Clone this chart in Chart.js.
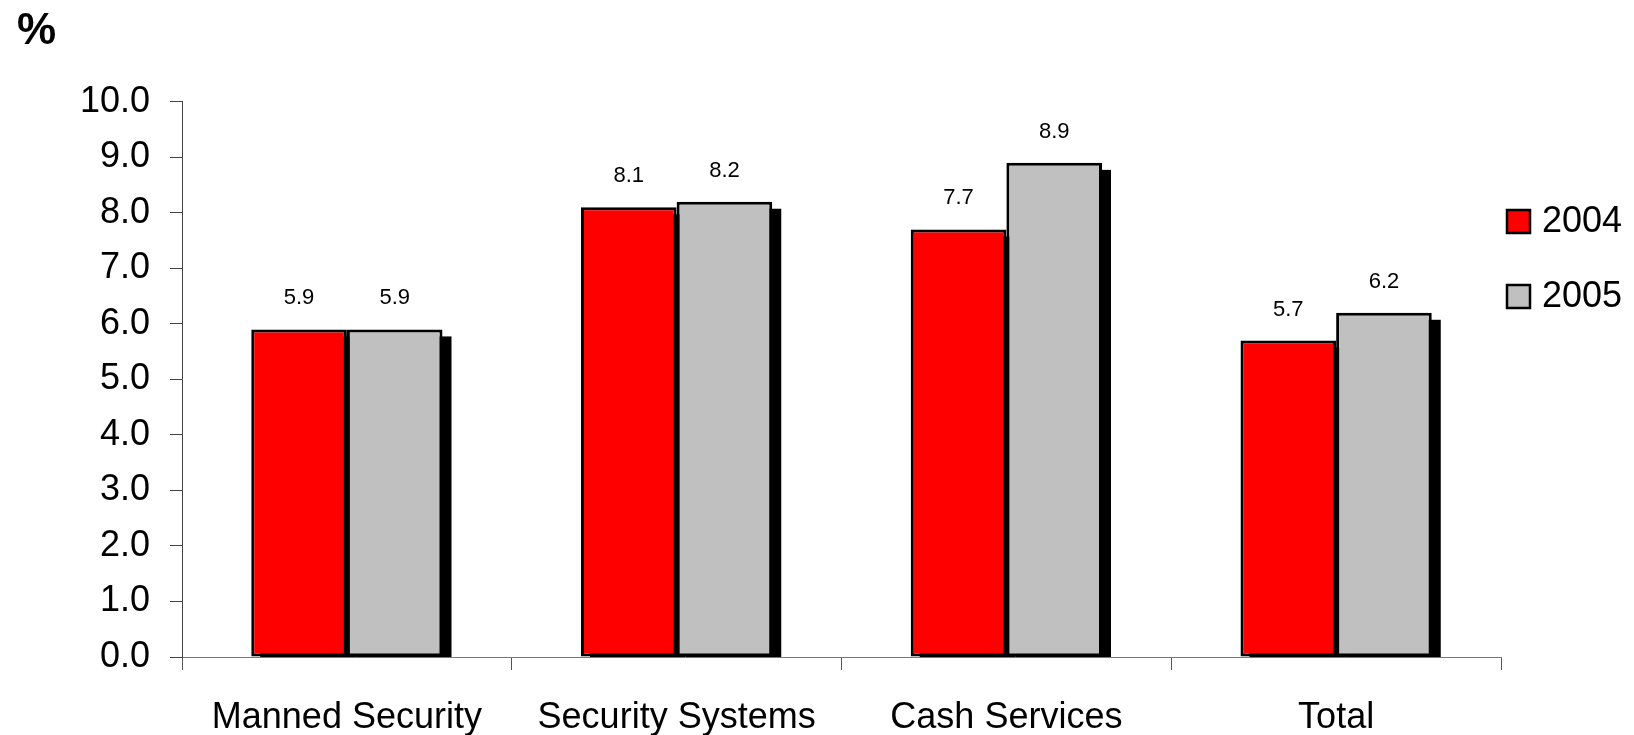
<!DOCTYPE html>
<html>
<head>
<meta charset="utf-8">
<script src="https://cdn.jsdelivr.net/npm/chart.js@4/dist/chart.umd.min.js"></script>
<style>
    html, body { margin: 0; padding: 0; background: #fff; }
    #wrap { width: 1634px; height: 735px; }
</style>
</head>
<body>
<div id="wrap"><canvas id="chart" width="1634" height="735"></canvas></div>
<script>
// Data
const categories = ['Manned Security', 'Security Systems', 'Cash Services', 'Total'];
const seriesNames = ['2004', '2005'];
const values2004 = [5.9, 8.1, 7.7, 5.7];
const values2005 = [5.9, 8.2, 8.9, 6.2];
const yTicks = [0, 1, 2, 3, 4, 5, 6, 7, 8, 9, 10];

const FONT = "'Liberation Sans', Arial, sans-serif";

// Drop shadow behind each bar
const barShadow = {
    id: 'barShadow',
    beforeDatasetsDraw(chart) {
        const ctx = chart.ctx;
        const area = chart.chartArea;
        ctx.save();
        ctx.beginPath();
        ctx.rect(area.left, area.top, area.right - area.left, area.bottom - area.top);
        ctx.clip();
        ctx.fillStyle = '#000';
        chart.data.datasets.forEach((ds, i) => {
            chart.getDatasetMeta(i).data.forEach(bar => {
                const w = bar.width;
                ctx.fillRect(bar.x - w / 2 + 9, bar.y + 7, w, bar.base - bar.y);
            });
        });
        ctx.restore();
    }
};

// Value labels above bars
const valueLabels = {
    id: 'valueLabels',
    afterDatasetsDraw(chart) {
        const ctx = chart.ctx;
        ctx.save();
        ctx.font = '22px ' + FONT;
        ctx.fillStyle = '#000';
        ctx.textAlign = 'center';
        ctx.textBaseline = 'alphabetic';
        chart.data.datasets.forEach((ds, i) => {
            chart.getDatasetMeta(i).data.forEach((bar, j) => {
                ctx.fillText(ds.data[j].toFixed(1), bar.x, bar.y - 25);
            });
        });
        ctx.restore();
    }
};

// Legend on the right
const sideLegend = {
    id: 'sideLegend',
    afterDraw(chart) {
        const ctx = chart.ctx;
        const x = chart.chartArea.right + 6;
        ctx.save();
        ctx.font = '36px ' + FONT;
        ctx.textBaseline = 'middle';
        ctx.textAlign = 'left';
        chart.data.datasets.forEach((ds, i) => {
            const y = 210 + i * 75;
            ctx.fillStyle = ds.backgroundColor;
            ctx.fillRect(x, y, 23, 23);
            ctx.lineWidth = 2.5;
            ctx.strokeStyle = '#000';
            ctx.strokeRect(x, y, 23, 23);
            ctx.fillStyle = '#000';
            ctx.fillText(ds.label, x + 35, y + 12);
        });
        ctx.restore();
    }
};

new Chart(document.getElementById('chart'), {
    type: 'bar',
    data: {
        labels: categories,
        datasets: [
            {
                label: seriesNames[0],
                data: values2004,
                backgroundColor: '#FF0000',
                borderColor: '#000',
                borderWidth: 3,
                borderSkipped: false
            },
            {
                label: seriesNames[1],
                data: values2005,
                backgroundColor: '#C0C0C0',
                borderColor: '#000',
                borderWidth: 3,
                borderSkipped: false
            }
        ]
    },
    options: {
        responsive: false,
        animation: false,
        categoryPercentage: 0.58,
        barPercentage: 1.0,
        layout: { padding: { left: 17, right: 133, top: 0, bottom: 0 } },
        plugins: {
            legend: { display: false },
            tooltip: { enabled: false },
            title: {
                display: true,
                text: '%',
                align: 'start',
                color: '#000',
                font: { family: FONT, size: 44, weight: 'bold' },
                padding: { top: 5, bottom: 44 }
            }
        },
        scales: {
            x: {
                offset: true,
                afterFit(scale) { scale.height = 78; },
                grid: {
                    display: true,
                    offset: true,
                    drawOnChartArea: false,
                    drawTicks: true,
                    tickLength: 13,
                    color: '#555'
                },
                border: { display: true, color: '#777', width: 1 },
                ticks: {
                    color: '#000',
                    padding: 26,
                    maxRotation: 0,
                    font: { family: FONT, size: 36 }
                }
            },
            y: {
                min: 0,
                max: 10,
                afterFit(scale) { scale.width = 165; },
                afterBuildTicks(scale) { scale.ticks = yTicks.map(v => ({ value: v })); },
                grid: {
                    display: true,
                    drawOnChartArea: false,
                    drawTicks: true,
                    tickLength: 12,
                    color: '#444'
                },
                border: { display: true, color: '#444', width: 1 },
                ticks: {
                    color: '#000',
                    padding: 20,
                    font: { family: FONT, size: 36 },
                    callback: v => Number(v).toFixed(1)
                }
            }
        }
    },
    plugins: [barShadow, valueLabels, sideLegend]
});
</script>
</body>
</html>
